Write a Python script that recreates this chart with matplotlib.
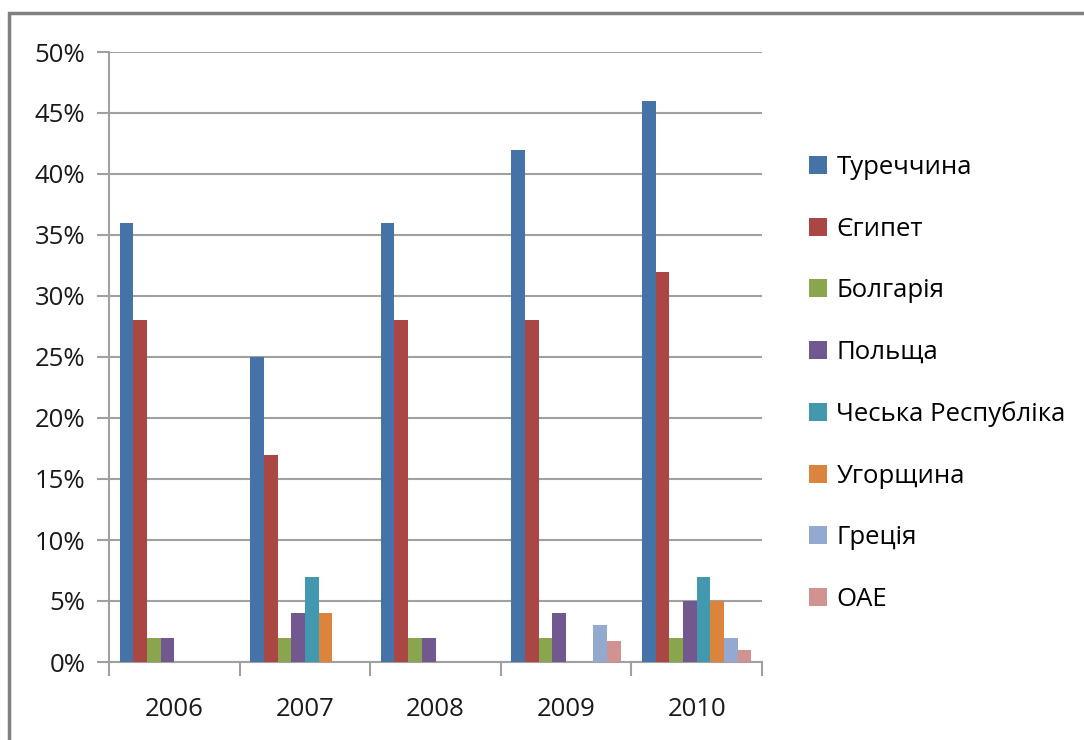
import matplotlib
matplotlib.use("Agg")
import matplotlib.pyplot as plt
import numpy as np
from matplotlib.patches import Rectangle

# DATA
years = ["2006", "2007", "2008", "2009", "2010"]
countries = ["Туреччина", "Єгипет", "Болгарія", "Польща",
             "Чеська Республіка", "Угорщина", "Греція", "ОАЕ"]
turkey  = [36, 25, 36, 42, 46]
egypt   = [28, 17, 28, 28, 32]
bulgaria = [2, 2, 2, 2, 2]
poland  = [2, 4, 2, 4, 5]
czech   = [0, 7, 0, 0, 7]
hungary = [0, 4, 0, 0, 5]
greece  = [0, 0, 0, 3, 2]
uae     = [0, 0, 0, 1.7, 1]
series = [turkey, egypt, bulgaria, poland, czech, hungary, greece, uae]
colors = ["#4572A7", "#AA4643", "#89A54E", "#71588F",
          "#4198AF", "#DB843D", "#93A9CF", "#D19392"]

plt.rcParams['font.family'] = ['Open Sans', 'DejaVu Sans']

fig = plt.figure(figsize=(10.84, 7.4), dpi=100)
ax = fig.add_axes([109/1084, 1 - 662/740, (762-109)/1084, (662-52)/740])

# outer chart frame
fig.patches.append(Rectangle((9/1084, -0.05), 1.2, 1 - 13/740 + 0.05,
                             transform=fig.transFigure, fill=False,
                             edgecolor="#808080", linewidth=2.5))

x = np.arange(len(years))
n = len(series)
gap = 1.55
bw = 1.0 / (n + gap)
for i, (vals, c, name) in enumerate(zip(series, colors, countries)):
    off = (i - (n - 1) / 2) * bw
    ax.bar(x + off, vals, width=bw, color=c, label=name, linewidth=0, zorder=3)

ax.set_xlim(-0.5, len(years) - 0.5)
ax.set_ylim(0, 50)
ax.set_yticks(np.arange(0, 51, 5))
ax.set_yticklabels([f"{v}%" for v in range(0, 51, 5)])
ax.yaxis.grid(True, color="#A0A0A0", linewidth=1.5, zorder=0)
ax.set_xticks(x)
ax.set_xticklabels(years)
ax.set_xticks(np.arange(-0.5, len(years), 1), minor=True)
ax.tick_params(axis="x", which="major", length=0, pad=25, labelsize=18.5, colors="#1a1a1a")
ax.tick_params(axis="x", which="minor", length=10, width=1.5, color="#A0A0A0")
ax.tick_params(axis="y", length=9, width=1.5, color="#A0A0A0", labelsize=18.5,
               labelcolor="#1a1a1a", pad=8)
for s in ["top", "right"]:
    ax.spines[s].set_visible(False)
for s in ["left", "bottom"]:
    ax.spines[s].set_color("#A0A0A0")
    ax.spines[s].set_linewidth(1.5)

leg = fig.legend(loc="upper left", bbox_to_anchor=(799/1084, 1 - 145/740),
                 frameon=False, fontsize=18.5, handlelength=0.7, handleheight=0.7,
                 handletextpad=0.35, labelspacing=1.42, borderaxespad=0)

fig.savefig("out.png", dpi=100)
